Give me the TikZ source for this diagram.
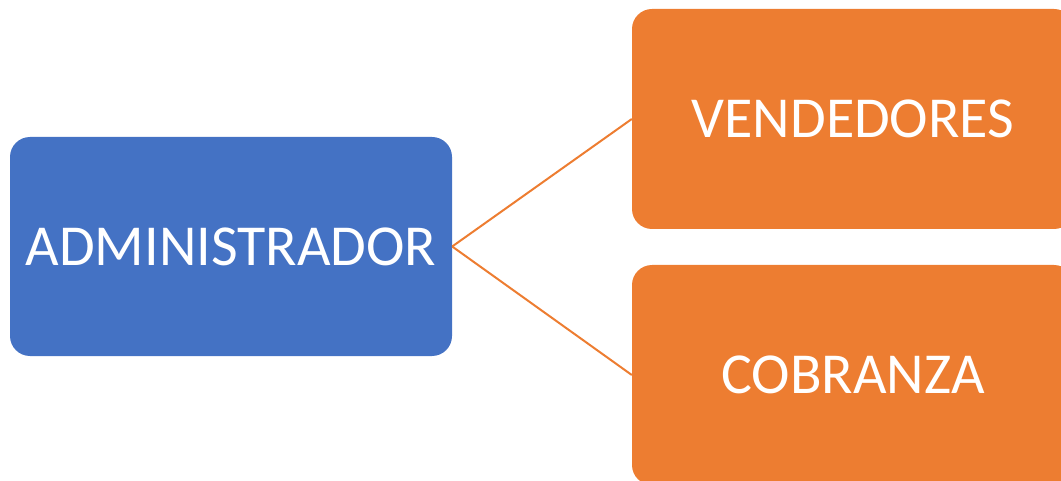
\documentclass[tikz,border=0pt]{standalone}
\usepackage{fontspec}
\setmainfont{Carlito}
\definecolor{admblue}{HTML}{4472C4}
\definecolor{deporange}{HTML}{ED7D31}
\begin{document}
\begin{tikzpicture}[x=1pt,y=-1pt,
  boxstyle/.style={rounded corners=20pt, inner sep=0pt, text=white,
    font=\fontsize{58}{70}\selectfont},
  admbox/.style={boxstyle, fill=admblue, minimum width=442pt, minimum height=219pt},
  depbox/.style={boxstyle, fill=deporange, minimum width=442pt, minimum height=220pt},
  link/.style={draw=deporange, line width=2pt}]
\useasboundingbox (0,0) rectangle (1061,481);
\begin{scope}
\clip (0,0) rectangle (1061,481);
\node[admbox] (adm) at (231,246.5) {ADMINISTRADOR};
\node[depbox] (ven) at (853,119) {VENDEDORES};
\node[depbox] (cob) at (853,375) {COBRANZA};
\draw[link] (adm.east) -- (ven.west);
\draw[link] (adm.east) -- (cob.west);
\end{scope}
\end{tikzpicture}
\end{document}
